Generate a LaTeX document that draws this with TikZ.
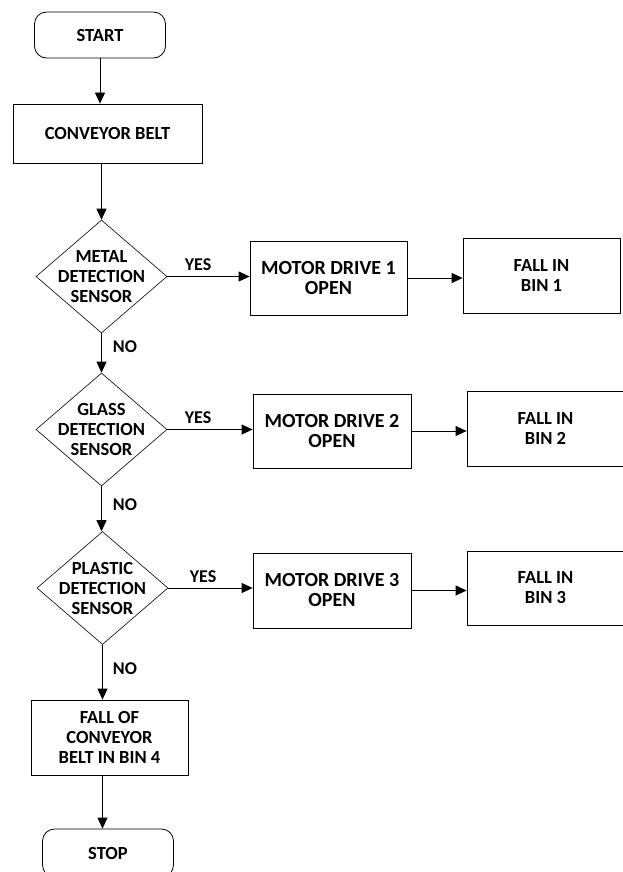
\documentclass[tikz,border=0pt]{standalone}
\usepackage{fontspec}
\setmainfont{Carlito}
\usetikzlibrary{shapes.geometric,arrows.meta}
\tikzset{
  box/.style={draw, rectangle, line width=0.8pt, inner sep=0pt, align=center,
    font=\fontsize{18.5}{20}\selectfont\bfseries},
  term/.style={box, rounded corners=12pt, minimum width=131pt, minimum height=46pt},
  decision/.style={draw, diamond, line width=0.6pt, inner sep=-12pt, align=center,
    minimum width=131pt, minimum height=113pt, font=\fontsize{18.5}{20}\selectfont\bfseries},
  lbl/.style={font=\fontsize{18}{20}\selectfont\bfseries, inner sep=0pt},
  arr/.style={line width=0.8pt, -{Triangle[length=11pt,width=10pt]}}
}
\begin{document}
\begin{tikzpicture}[x=1pt,y=-1pt]
\useasboundingbox (0,0) rectangle (623,872);
\node[term] (start) at (100,35){START};
\node[box, minimum width=189pt, minimum height=59pt] (belt) at (107.5,133.5){CONVEYOR BELT};
\node[decision] (metal) at (101.5,276.5){METAL\\DETECTION\\SENSOR};
\node[decision] (glass) at (101.5,429.5){GLASS\\DETECTION\\SENSOR};
\node[decision] (plastic) at (102.5,588){PLASTIC\\DETECTION\\SENSOR};
\node[box, minimum width=157pt, minimum height=75pt] (fallfour) at (109.5,737.5){FALL OF\\CONVEYOR\\BELT IN BIN 4};
\node[term, minimum height=48pt] (stop) at (108,853){STOP};
\node[box, minimum width=157pt, minimum height=74pt, font=\fontsize{20}{20}\selectfont\bfseries] (motor1) at (328.5,278){MOTOR DRIVE 1\\OPEN};
\node[box, minimum width=158pt, minimum height=74pt, font=\fontsize{20}{20}\selectfont\bfseries] (motor2) at (332,431){MOTOR DRIVE 2\\OPEN};
\node[box, minimum width=158pt, minimum height=75pt, font=\fontsize{20}{20}\selectfont\bfseries] (motor3) at (332,590.5){MOTOR DRIVE 3\\OPEN};
\node[box, minimum width=157pt, minimum height=75pt] (fall1) at (541.5,275.5){FALL IN\\BIN 1};
\node[box, minimum width=157pt, minimum height=75pt] (fall2) at (545.5,428.5){FALL IN\\BIN 2};
\node[box, minimum width=157pt, minimum height=74pt] (fall3) at (545.5,588){FALL IN\\BIN 3};
% main column
\draw[arr] (start.south) -- (start.south |- belt.north);
\draw[arr] (metal.north |- belt.south) -- (metal.north);
\draw[arr] (metal.south) -- (glass.north);
\draw[arr] (glass.south) -- (glass.south |- plastic.north);
\draw[arr] (plastic.south) -- (plastic.south |- fallfour.north);
\draw[arr] (plastic.south |- fallfour.south) -- (plastic.south |- stop.north);
% yes branches
\draw[arr] (metal.east) -- (metal.east -| motor1.west);
\draw[arr] (glass.east) -- (glass.east -| motor2.west);
\draw[arr] (plastic.east) -- (plastic.east -| motor3.west);
\draw[arr] (motor1.east) -- (motor1.east -| fall1.west);
\draw[arr] (motor2.east) -- (motor2.east -| fall2.west);
\draw[arr] (motor3.east) -- (motor3.east -| fall3.west);
% labels
\node[lbl] (yes1) at (198,265){YES};
\node[lbl] (yes2) at (198,418){YES};
\node[lbl] (yes3) at (203,577){YES};
\node[lbl] (no1) at (125,347){NO};
\node[lbl] (no2) at (125,505){NO};
\node[lbl] (no3) at (125,669){NO};
\end{tikzpicture}
\end{document}
